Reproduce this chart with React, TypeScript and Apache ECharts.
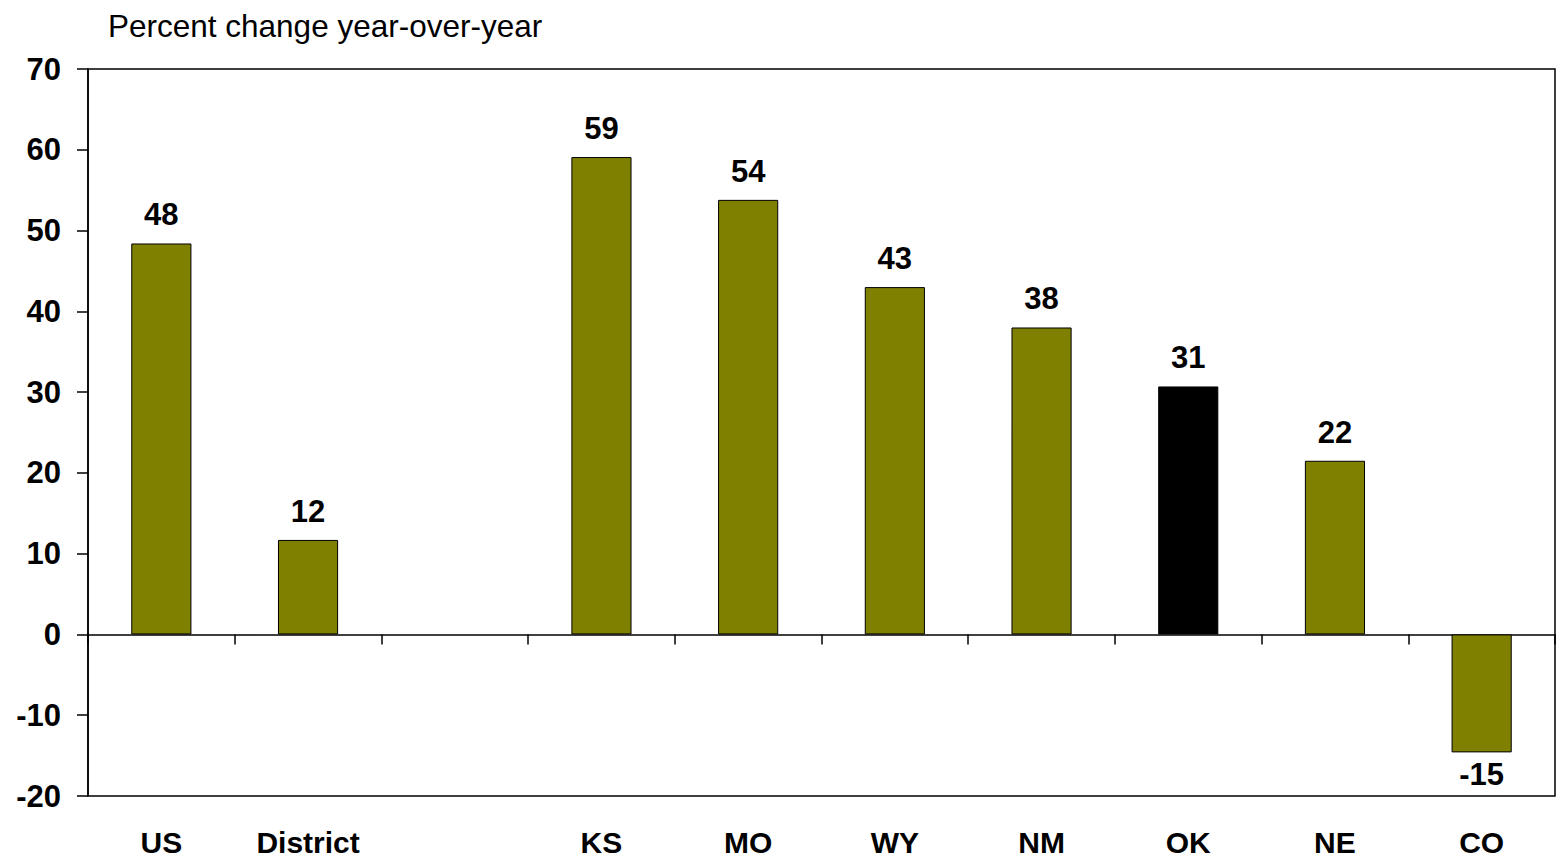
import React, { useEffect, useRef } from "react";
import * as echarts from "echarts";

const categories = ["US", "District", "", "KS", "MO", "WY", "NM", "OK", "NE", "CO"];
const values: (number | null)[] = [48.4, 11.7, null, 59.1, 53.8, 43.0, 38.0, 30.7, 21.5, -14.6];
const highlight = "OK";
const yTicks = { min: -20, max: 70, interval: 10 };
const title = "Percent change year-over-year";

const OLIVE = "#808000";
const FONT = "'Liberation Sans', Arial, sans-serif";

export default function App() {
  const ref = useRef<HTMLDivElement>(null);
  useEffect(() => {
    document.body.style.margin = "0";
    const chart = echarts.init(ref.current!, undefined, { renderer: "svg" });
    const data = values.map((v, i) => {
      if (v === null) return null;
      return {
        value: v,
        itemStyle: { color: categories[i] === highlight ? "#000000" : OLIVE },
        label: { position: v < 0 ? "bottom" : "top", distance: v < 0 ? 7 : 13 },
      };
    });
    chart.setOption({
      animation: false,
      backgroundColor: "#ffffff",
      textStyle: { fontFamily: FONT },
      title: {
        text: title,
        left: 103,
        top: 5,
        textStyle: { fontFamily: FONT, fontSize: 31.5, fontWeight: "normal", color: "#000" },
      },
      grid: {
        left: 88,
        top: 69,
        width: 1467,
        height: 727,
        show: true,
        borderColor: "#000",
        borderWidth: 1.5,
        backgroundColor: "transparent",
      },
      xAxis: [
        {
          type: "category",
          data: categories,
          axisLine: { onZero: true, lineStyle: { color: "#000", width: 1.5 } },
          axisTick: { show: true, inside: false, length: 10, lineStyle: { color: "#000", width: 1.5 } },
          axisLabel: { show: false },
        },
        {
          type: "category",
          data: categories,
          position: "bottom",
          axisLine: { show: false },
          axisTick: { show: false },
          axisLabel: {
            show: true,
            margin: 33,
            fontFamily: FONT,
            fontSize: 30,
            lineHeight: 26,
            fontWeight: "bold",
            color: "#000",
          },
        },
      ],
      yAxis: {
        type: "value",
        min: yTicks.min,
        max: yTicks.max,
        interval: yTicks.interval,
        splitLine: { show: false },
        axisLine: { show: true, lineStyle: { color: "#000", width: 1.5 } },
        axisTick: { show: true, inside: false, length: 11, lineStyle: { color: "#000", width: 1.5 } },
        axisLabel: {
          margin: 27,
          fontFamily: FONT,
          fontSize: 31,
          fontWeight: "bold",
          color: "#000",
        },
      },
      series: [
        {
          type: "bar",
          xAxisIndex: 0,
          data,
          barWidth: "41%",
          itemStyle: { borderColor: "#000", borderWidth: 1 },
          label: {
            show: true,
            fontFamily: FONT,
            fontSize: 31,
            fontWeight: "bold",
            color: "#000",
            formatter: (p: any) => Number(p.value).toFixed(0),
          },
        },
      ],
    });
    return () => chart.dispose();
  }, []);
  return <div ref={ref} style={{ width: 1558, height: 859 }} />;
}
